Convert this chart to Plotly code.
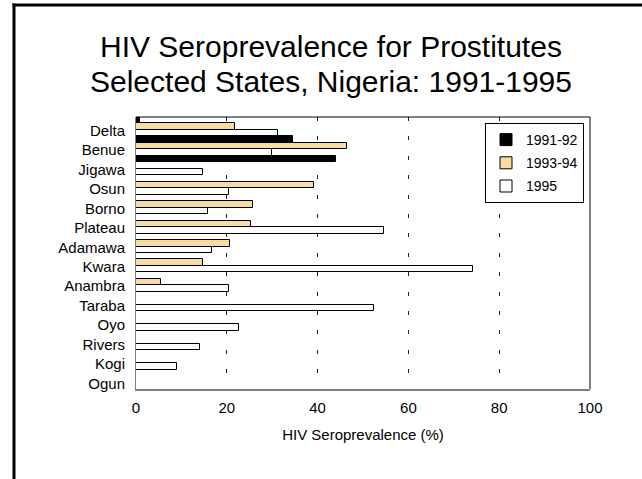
import plotly.graph_objects as go

states = ["Delta", "Benue", "Jigawa", "Osun", "Borno", "Plateau", "Adamawa",
          "Kwara", "Anambra", "Taraba", "Oyo", "Rivers", "Kogi", "Ogun"]
series_names = ["1991-92", "1993-94", "1995"]
v_1991_92 = [0.9, 34.6, 44.1, None, None, None, None, None, None, None, None, None, None, None]
v_1993_94 = [21.8, 46.5, None, 39.3, 25.7, 25.4, 20.8, 14.8, 5.4, None, None, None, None, None]
v_1995 = [31.2, 30.0, 14.7, 20.4, 15.9, 54.7, 16.8, 74.2, 20.5, 52.4, 22.6, 14.1, 9.0, 0]
x_ticks = [0, 20, 40, 60, 80, 100]

FONT = "Liberation Sans, Arial, sans-serif"
colors = ["#000000", "#F4DCA4", "#FFFFFF"]

fig = go.Figure()
for i, (name, vals) in enumerate(zip(series_names, [v_1991_92, v_1993_94, v_1995])):
    fig.add_trace(go.Bar(
        y=states, x=vals, name=name, orientation="h",
        marker=dict(color=colors[i], line=dict(color="#000000", width=1)),
        legendgroup=name,
    ))

W, H = 642, 479
L, R, T, B = 136, 642 - 590, 117, 479 - 389
pw, ph = W - L - R, H - T - B

def px_x(x):
    return (x - L) / pw

def px_y(y):
    return (H - B - y) / ph

fig.update_layout(
    width=W, height=H,
    margin=dict(l=L, r=R, t=T, b=B, pad=0),
    paper_bgcolor="white", plot_bgcolor="white",
    barmode="group", bargap=0, bargroupgap=0,
    font=dict(family=FONT, size=15, color="black"),
    showlegend=True,
    legend=dict(
        x=px_x(485), y=px_y(123), xanchor="left", yanchor="top",
        bgcolor="white", bordercolor="black", borderwidth=1,
        font=dict(size=14), tracegroupgap=2,
        itemwidth=30,
    ),
    xaxis=dict(
        range=[0, 100], tickvals=x_ticks, ticktext=[str(t) for t in x_ticks],
        showgrid=True, gridcolor="#222222", gridwidth=1, griddash="4px,15.4px",
        zeroline=False, showline=True, linecolor="#808080", linewidth=2,
        ticks="", ticklabelstandoff=4,
        title=dict(text="HIV Seroprevalence (%)", font=dict(size=15), standoff=14),
        fixedrange=True,
    ),
    yaxis=dict(
        autorange="reversed", showgrid=False, zeroline=False,
        showline=True, linecolor="#808080", linewidth=1,
        ticks="", ticklabelstandoff=7, ticklabelshift=-4, tickfont=dict(size=15),
        fixedrange=True,
    ),
    annotations=[
        dict(text="HIV Seroprevalence for Prostitutes", x=px_x(331), y=px_y(46),
             xref="paper", yref="paper", showarrow=False, xanchor="center", yanchor="middle",
             font=dict(size=30, family=FONT)),
        dict(text="Selected States, Nigeria: 1991-1995", x=px_x(331), y=px_y(81),
             xref="paper", yref="paper", showarrow=False, xanchor="center", yanchor="middle",
             font=dict(size=30, family=FONT)),
    ],
    shapes=[
        # plot frame top & right (black)
        dict(type="line", xref="paper", yref="paper", x0=0, x1=1, y0=1, y1=1,
             line=dict(color="black", width=1)),
        dict(type="line", xref="paper", yref="paper", x0=1, x1=1, y0=0, y1=1,
             line=dict(color="black", width=1)),
        # slide frame top & left
        dict(type="line", xref="paper", yref="paper", x0=px_x(12.5), x1=px_x(645),
             y0=px_y(5), y1=px_y(5), line=dict(color="black", width=3)),
        dict(type="line", xref="paper", yref="paper", x0=px_x(14), x1=px_x(14),
             y0=px_y(3.5), y1=px_y(482), line=dict(color="black", width=3)),
    ],
)

fig.write_html("out.html")
